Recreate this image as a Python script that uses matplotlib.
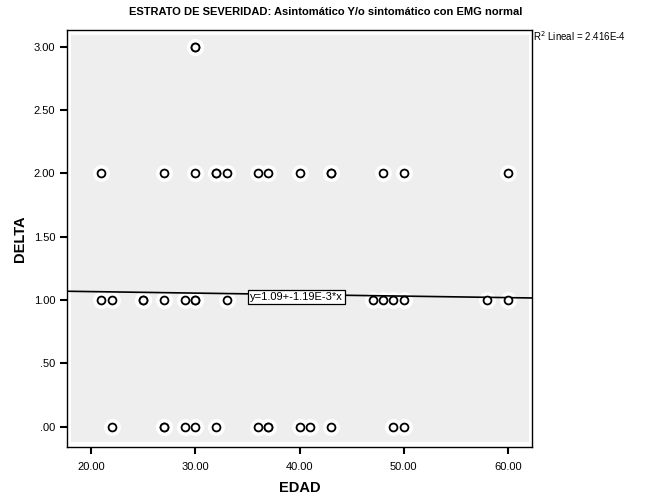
import matplotlib
matplotlib.use('Agg')
import matplotlib.pyplot as plt
from matplotlib.patches import Rectangle
import numpy as np

plt.rcParams['font.family'] = ['Liberation Sans', 'DejaVu Sans']

# EDAD / DELTA pairs (duplicates = overlapping points)
edad_0 = [22, 27, 27, 29, 30, 32, 36, 37, 37, 40, 41, 43, 49, 50]
edad_1 = [21, 22, 25, 25, 27, 29, 30, 30, 33, 47, 48, 49, 50, 58, 60]
edad_2 = [21, 27, 30, 32, 32, 33, 36, 37, 40, 43, 43, 48, 50, 60]
edad_3 = [30, 30]

intercept = 1.09
slope = -1.19e-3
r2_text = 'R$^2$ Lineal = 2.416E-4'
eq_text = 'y=1.09+-1.19E-3*x'

x_ticks = [20, 30, 40, 50, 60]
x_labels = ['20.00', '30.00', '40.00', '50.00', '60.00']
y_ticks = [0, 0.5, 1, 1.5, 2, 2.5, 3]
y_labels = ['.00', '.50', '1.00', '1.50', '2.00', '2.50', '3.00']

edad = np.array(edad_0 + edad_1 + edad_2 + edad_3, dtype=float)
delta = np.array([0] * len(edad_0) + [1] * len(edad_1) +
                 [2] * len(edad_2) + [3] * len(edad_3), dtype=float)

fig = plt.figure(figsize=(6.56, 4.98), dpi=100)
ax = fig.add_axes([0.1021, 0.1024, 0.709, 0.8373])
ax.set_xlim(17.7, 62.3)
ax.set_ylim(-0.16, 3.13)

# grey plotting area with a thin white margin inside the frame
ax.add_patch(Rectangle((0.008, 0.012), 0.985, 0.976, transform=ax.transAxes,
                       facecolor='#eeeeee', edgecolor='none', zorder=0))

# white halo behind the markers
ax.scatter(edad, delta, s=150, color='white', alpha=0.9, linewidths=0,
           zorder=2)
ax.scatter(edad, delta, s=150 * 0.55, color='white', linewidths=0, zorder=2)
ax.scatter(edad, delta, s=32, facecolor='white', edgecolor='black',
           linewidths=1.3, zorder=4)

# linear fit line
xl = np.array(ax.get_xlim())
ax.plot(xl, intercept + slope * xl, color='black', lw=1.2, zorder=3)

ax.text(39.7, intercept + slope * 39.7 - 0.02, eq_text, fontsize=8,
        ha='center', va='center', zorder=5,
        bbox=dict(boxstyle='square,pad=0.2', facecolor='white',
                  edgecolor='black', linewidth=0.9))

ax.set_xticks(x_ticks)
ax.set_xticklabels(x_labels)
ax.set_yticks(y_ticks)
ax.set_yticklabels(y_labels)
ax.tick_params(direction='out', length=5, width=1.5, labelsize=8,
               colors='black')
ax.tick_params(axis='x', pad=6)

for s in ax.spines.values():
    s.set_linewidth(1.0)
    s.set_color('black')

ax.set_xlabel('EDAD', fontsize=10.5, fontweight='bold', labelpad=6)
ax.set_ylabel('DELTA', fontsize=10.5, fontweight='bold', labelpad=5)

fig.text(0.497, 0.976, 'ESTRATO DE SEVERIDAD: Asintomático Y/o sintomático con EMG normal',
         ha='center', va='center', fontsize=8, fontweight='bold')
fig.text(0.812, 0.927, r2_text, fontsize=7, ha='left', va='center')

fig.savefig('out.png', dpi=100)
